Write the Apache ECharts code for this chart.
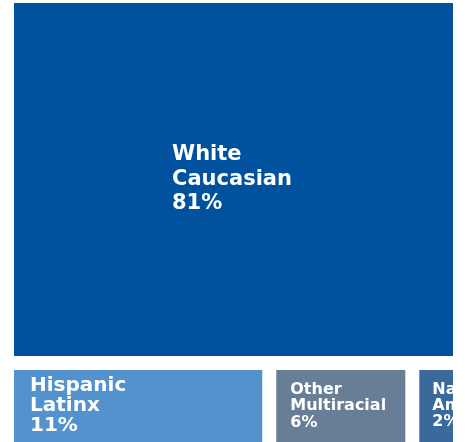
<!DOCTYPE html>
<html><head><meta charset="utf-8">
<script src="https://cdn.jsdelivr.net/npm/echarts@6/dist/echarts.min.js"></script>
<style>html,body{margin:0;padding:0;background:#fff}#c{width:465px;height:442px}</style>
</head><body><div id="c"></div>
<script>
// ---- data ----
const categories = ['White Caucasian', 'Hispanic Latinx', 'Other Multiracial', 'Native American'];
const values = [81, 11, 6, 2];

// ---- styles ----
const palette = ['#00529F', '#5392CD', '#687D96', '#3A6A9C'];
const labelStyles = [
  { distance: 158, fontSize: 21, lineHeight: 24.5 },
  { distance: 16, fontSize: 20, lineHeight: 20 },
  { distance: 14, fontSize: 16, lineHeight: 16.5 },
  { distance: 13, fontSize: 16, lineHeight: 16 }
];

const chart = echarts.init(document.getElementById('c'));
const fontFamily = 'DejaVu Sans';

const data = categories.map((name, i) => {
  const s = labelStyles[i];
  const lines = name.split(' ').concat([values[i] + '%']);
  return {
    name,
    value: values[i],
    itemStyle: { color: palette[i] },
    label: {
      position: 'insideLeft',
      distance: s.distance,
      align: 'left',
      verticalAlign: 'middle',
      fontSize: s.fontSize,
      lineHeight: s.lineHeight,
      fontWeight: 'bold',
      fontFamily: fontFamily,
      color: '#fff',
      padding: 0,
      overflow: 'none',
      formatter: lines.join('\n')
    }
  };
});

chart.setOption({
  animation: false,
  series: [{
    type: 'treemap',
    left: 14, top: 3, width: 439, height: 439,
    roam: false,
    nodeClick: false,
    breadcrumb: { show: false },
    itemStyle: { borderWidth: 0, gapWidth: 14 },
    levels: [{ itemStyle: { borderWidth: 0, gapWidth: 14 } }],
    emphasis: { disabled: true },
    data: data
  }]
});
</script>
</body></html>
